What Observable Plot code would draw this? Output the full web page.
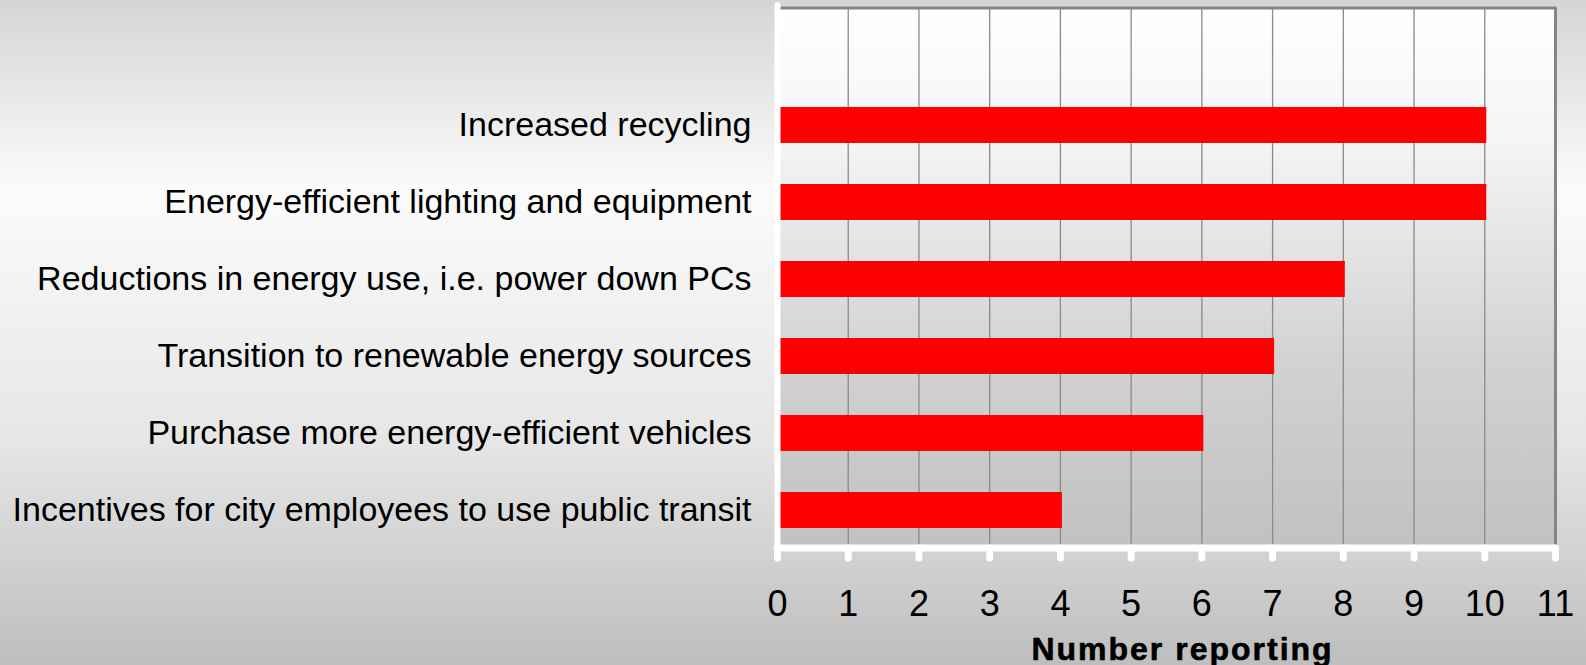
<!DOCTYPE html>
<html>
<head>
<meta charset="utf-8">
<script src="https://cdn.jsdelivr.net/npm/d3@7"></script>
<script src="https://cdn.jsdelivr.net/npm/@observablehq/plot@0.6"></script>
<style>
  html, body { margin: 0; padding: 0; overflow: hidden; }
  body {
    width: 1586px; height: 665px;
    background: linear-gradient(to bottom, #d5d5d5 0px, #fbfbfb 190px, #e6e6e6 440px, #bebebe 665px);
    font-family: "Liberation Sans", Arial, sans-serif;
  }
  #chart svg { display: block; background: transparent; }
</style>
</head>
<body>
<div id="chart"></div>
<script>
// Data
const categories = [
  "Increased recycling",
  "Energy-efficient lighting and equipment",
  "Reductions in energy use, i.e. power down PCs",
  "Transition to renewable energy sources",
  "Purchase more energy-efficient vehicles",
  "Incentives for city employees to use public transit"
];
const values = [10, 10, 8, 7, 6, 4];
const xTicks = [0, 1, 2, 3, 4, 5, 6, 7, 8, 9, 10, 11];
const gridTicks = [1, 2, 3, 4, 5, 6, 7, 8, 9, 10];
const xLabel = "Number reporting";

const data = categories.map((c, i) => ({category: c, value: values[i]}));

function gradientDefs() {
  const defs = d3.create("svg:defs");
  const g = defs.append("linearGradient")
    .attr("id", "plotBg").attr("x1", 0).attr("y1", 0).attr("x2", 0).attr("y2", 1);
  g.append("stop").attr("offset", "0%").attr("stop-color", "#ffffff");
  g.append("stop").attr("offset", "25%").attr("stop-color", "#f4f4f4");
  g.append("stop").attr("offset", "65%").attr("stop-color", "#d2d2d2");
  g.append("stop").attr("offset", "100%").attr("stop-color", "#c1c1c1");
  return defs.node();
}

function topBorder(index, scales, values, dims) {
  const x = scales.x;
  return d3.create("svg:line")
    .attr("x1", x(0)).attr("x2", x(11) + 1.5)
    .attr("y1", dims.marginTop).attr("y2", dims.marginTop)
    .attr("stroke", "#858585").attr("stroke-width", 3).node();
}

function bottomAxisLine(index, scales, values, dims) {
  const x = scales.x;
  const y = dims.height - dims.marginBottom;
  return d3.create("svg:line")
    .attr("x1", x(0)).attr("x2", x(11))
    .attr("y1", y).attr("y2", y)
    .attr("stroke", "#ffffff").attr("stroke-width", 7)
    .attr("stroke-linecap", "round").node();
}

const chart = Plot.plot({
  width: 1586,
  height: 665,
  marginLeft: 777,
  marginRight: 31,
  marginTop: 8,
  marginBottom: 117,
  style: {fontFamily: "'Liberation Sans', Arial, sans-serif", background: "transparent", color: "#000"},
  x: {domain: [0, 11]},
  y: {domain: ["", ...categories], range: [10, 549], paddingInner: 0.53, paddingOuter: 0.265},
  marks: [
    gradientDefs,
    Plot.frame({fill: "url(#plotBg)", stroke: "none"}),
    Plot.ruleX(gridTicks, {stroke: "#8a8a8a", strokeWidth: 1.3}),
    Plot.barX(data, {x: "value", y: "category", fill: "#ff0000", insetRight: -2}),
    Plot.ruleX([11], {stroke: "#858585", strokeWidth: 3}),
    topBorder,
    Plot.ruleX([0], {stroke: "#ffffff", strokeWidth: 6, strokeLinecap: "round", insetTop: -3}),
    bottomAxisLine,
    Plot.axisX({
      ticks: xTicks, tickFormat: d => String(d),
      tickSize: 10, tickPadding: 32,
      stroke: "#ffffff", strokeWidth: 7, strokeLinecap: "round",
      fontSize: 36, fill: "#000", label: null
    }),
    Plot.axisY({
      ticks: categories, tickSize: 0, tickPadding: 26,
      fontSize: 34, fill: "#000", label: null
    }),
    Plot.text([xLabel], {
      text: d => d, frameAnchor: "bottom", dx: 16, dy: 111,
      fontSize: 32, fontWeight: "bold", fill: "#000", stroke: "#000", strokeWidth: 0.6
    })
  ]
});
d3.select(chart).selectAll('g[aria-label="text"] text').style("letter-spacing", "2px");
document.getElementById("chart").appendChild(chart);
</script>
</body>
</html>
